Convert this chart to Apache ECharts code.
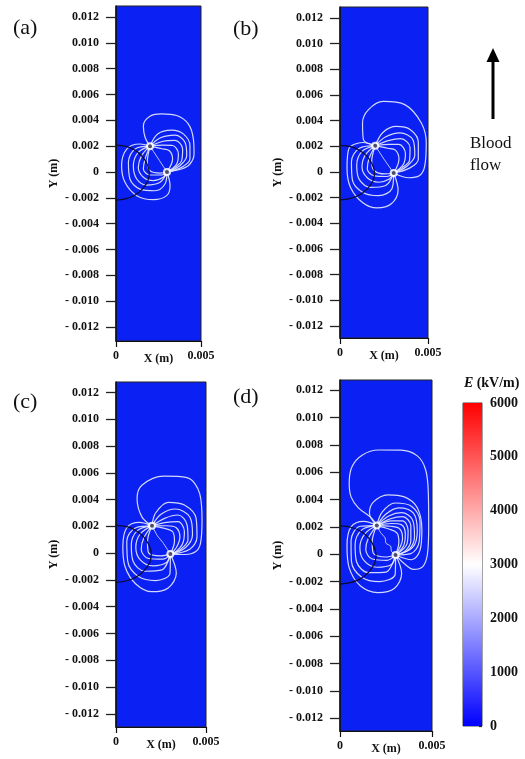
<!DOCTYPE html>
<html><head><meta charset="utf-8">
<script src="https://cdn.jsdelivr.net/npm/echarts@6/dist/echarts.min.js"></script>
<style>html,body{margin:0;padding:0;background:#fff}#c{width:525px;height:759px}</style>
</head><body><div id="c"></div>
<script>
// ---------- data (positions in mm; axes labelled in m) ----------
const yTicks = [12,10,8,6,4,2,0,-2,-4,-6,-8,-10,-12];
const yTickLabels = ["0.012","0.010","0.008","0.006","0.004","0.002","0","- 0.002","- 0.004","- 0.006","- 0.008","- 0.010","- 0.012"];
const xTicks = [0,5];
const xTickLabels = ["0","0.005"];
const cbTicks = [0,1000,2000,3000,4000,5000,6000];
const cbTickLabels = ["0","1000","2000","3000","4000","5000","6000"];
const cbMax = 6000;
const panelLabels = ["(a)","(b)","(c)","(d)"];

// tissue boundary (black arc)
const tissueArc = [[0,2.08],[0.6,1.98],[1.1,1.7],[1.55,1.2],[1.85,0.55],[1.96,-0.05],[1.87,-0.7],[1.56,-1.3],[1.1,-1.8],[0.55,-2.08],[0,-2.18]];

// ---- panel (a)
const electrodesA = [[2.0,2.0],[3.0,0.0]];
const midA = [[2.0,2.0],[2.5,1.0],[3.0,0.0]];
const rightA = [
 [[2.0,2.0],[1.71,2.69],[1.61,3.59],[2.0,4.32],[2.69,4.5],[3.57,4.37],[4.25,3.72],[4.55,2.56],[4.59,1.4],[4.35,0.62],[3.86,0.23],[3.0,0.0]],
 [[2.0,2.0],[2.45,2.95],[3.27,3.25],[3.96,2.95],[4.35,2.04],[4.35,1.0],[3.86,0.36],[3.0,0.0]],
 [[2.0,2.0],[2.62,2.65],[3.47,2.85],[4.06,2.3],[4.16,1.27],[3.76,0.49],[3.0,0.0]],
 [[2.0,2.0],[2.78,2.38],[3.47,2.45],[3.92,1.78],[3.86,0.88],[3.47,0.36],[3.0,0.0]],
 [[2.0,2.0],[2.78,2.08],[3.33,2.05],[3.67,1.4],[3.57,0.62],[3.0,0.0]],
 [[2.0,2.0],[2.69,1.8],[3.14,1.65],[3.33,1.0],[3.0,0.0]]
];
const leftA = [
 [[2.0,2.0],[1.41,2.17],[0.63,1.78],[0.33,0.49],[0.53,-0.8],[1.22,-1.83],[2.2,-2.14],[2.98,-1.83],[3.18,-1.06],[3.0,0.0]],
 [[2.0,2.0],[1.12,1.78],[0.73,0.75],[0.82,-0.54],[1.41,-1.32],[2.29,-1.45],[2.88,-0.93],[3.0,0.0]],
 [[2.0,2.0],[1.31,1.52],[1.02,0.49],[1.22,-0.54],[1.8,-1.01],[2.59,-0.8],[3.0,0.0]],
 [[2.0,2.0],[1.51,1.27],[1.31,0.36],[1.61,-0.41],[2.2,-0.67],[2.78,-0.41],[3.0,0.0]],
 [[2.0,2.0],[1.71,1.01],[1.61,0.23],[2.0,-0.23],[2.69,-0.23],[3.0,0.0]],
 [[2.0,2.0],[1.84,0.75],[2.0,0.1],[2.59,-0.08],[3.0,0.0]]
];

// ---- panel (b)
const electrodesB = [[2.0,2.05],[3.05,-0.08]];
const midB = [[2.0,2.05],[2.5,1.0],[3.05,-0.08]];
const rightB = [
 [[2.0,2.05],[1.33,2.52],[1.28,3.82],[1.62,4.86],[2.46,5.5],[3.68,5.25],[4.62,3.82],[4.9,2.26],[4.81,0.44],[4.5,-0.3],[3.9,-0.45],[3.05,-0.08]],
 [[2.0,2.05],[2.45,3.1],[3.2,3.55],[4.0,3.3],[4.45,2.3],[4.45,1.0],[3.95,0.3],[3.05,-0.08]],
 [[2.0,2.05],[2.6,2.75],[3.4,3.05],[4.15,2.5],[4.25,1.3],[3.8,0.45],[3.05,-0.08]],
 [[2.0,2.05],[2.75,2.45],[3.45,2.6],[3.98,1.9],[3.95,0.9],[3.5,0.3],[3.05,-0.08]],
 [[2.0,2.05],[2.8,2.15],[3.35,2.15],[3.72,1.45],[3.6,0.6],[3.05,-0.08]],
 [[2.0,2.05],[2.7,1.85],[3.15,1.7],[3.35,1.0],[3.05,-0.08]]
];
const leftB = [
 [[2.0,2.05],[1.3,2.3],[0.5,1.8],[0.4,0.3],[0.6,-1.2],[1.3,-2.4],[2.1,-2.8],[2.9,-2.5],[3.3,-1.4],[3.05,-0.08]],
 [[2.0,2.05],[1.1,1.85],[0.65,0.8],[0.7,-0.6],[1.3,-1.6],[2.2,-1.85],[2.95,-1.3],[3.05,-0.08]],
 [[2.0,2.05],[1.25,1.6],[0.95,0.5],[1.1,-0.6],[1.75,-1.2],[2.6,-1.05],[3.05,-0.08]],
 [[2.0,2.05],[1.45,1.35],[1.25,0.4],[1.55,-0.45],[2.2,-0.8],[2.8,-0.55],[3.05,-0.08]],
 [[2.0,2.05],[1.65,1.05],[1.55,0.25],[1.95,-0.3],[2.65,-0.35],[3.05,-0.08]],
 [[2.0,2.05],[1.8,0.8],[1.95,0.1],[2.55,-0.15],[3.05,-0.08]]
];

// ---- panel (c)
const electrodesC = [[2.0,2.04],[3.02,-0.07]];
const midC = [[2.0,2.04],[2.3,1.3],[2.6,0.8],[3.02,-0.07]];
const rightC = [
 [[2.0,2.04],[1.44,2.71],[1.17,4.08],[1.44,5.07],[2.65,5.75],[3.94,5.65],[4.65,4.45],[4.78,2.46],[4.69,0.72],[4.41,0.1],[3.85,-0.1],[3.02,-0.07]],
 [[2.0,2.04],[2.2,3.0],[2.9,3.8],[3.8,3.6],[4.45,2.6],[4.5,1.2],[4.1,0.3],[3.02,-0.07]],
 [[2.0,2.04],[2.5,2.9],[3.3,3.3],[4.1,2.7],[4.25,1.4],[3.85,0.4],[3.02,-0.07]],
 [[2.0,2.04],[2.7,2.6],[3.45,2.85],[3.95,2.1],[4.0,1.0],[3.6,0.3],[3.02,-0.07]],
 [[2.0,2.04],[2.8,2.3],[3.45,2.35],[3.8,1.6],[3.7,0.7],[3.35,0.15],[3.02,-0.07]],
 [[2.0,2.04],[2.8,2.05],[3.35,1.9],[3.55,1.2],[3.35,0.4],[3.02,-0.07]],
 [[2.0,2.04],[2.7,1.85],[3.15,1.6],[3.25,0.9],[3.02,-0.07]]
];
const leftC = [
 [[2.0,2.04],[1.3,2.3],[0.6,1.9],[0.38,0.5],[0.5,-1.0],[1.1,-2.3],[2.0,-2.88],[2.9,-2.6],[3.35,-1.5],[3.02,-0.07]],
 [[2.0,2.04],[1.1,1.9],[0.6,0.9],[0.65,-0.6],[1.25,-1.75],[2.2,-2.05],[3.0,-1.5],[3.02,-0.07]],
 [[2.0,2.04],[1.2,1.7],[0.85,0.6],[0.95,-0.6],[1.6,-1.35],[2.55,-1.25],[3.02,-0.07]],
 [[2.0,2.04],[1.35,1.45],[1.1,0.45],[1.35,-0.5],[2.05,-0.95],[2.8,-0.7],[3.02,-0.07]],
 [[2.0,2.04],[1.55,1.15],[1.4,0.3],[1.8,-0.4],[2.6,-0.45],[3.02,-0.07]],
 [[2.0,2.04],[1.75,0.85],[1.8,0.05],[2.5,-0.2],[3.02,-0.07]]
];

// ---- panel (d)
const electrodesD = [[2.0,2.1],[3.02,-0.05]];
const midD = [[2.0,2.1],[2.2,1.6],[2.45,1.2],[2.5,0.8],[2.75,0.6],[2.8,0.2],[3.02,-0.05]];
const rightD = [
 [[2.0,2.1],[1.73,2.63],[1.0,3.4],[0.6,4.2],[0.5,5.2],[0.65,6.4],[1.2,7.25],[2.1,7.63],[3.3,7.62],[4.2,7.2],[4.65,6.2],[4.8,4.5],[4.82,2.0],[4.75,0.0],[4.5,-0.9],[4.0,-1.1],[3.5,-0.7],[3.02,-0.05]],
 [[2.0,2.1],[1.6,3.0],[1.8,3.8],[2.6,4.35],[3.5,4.2],[4.2,3.4],[4.45,1.8],[4.35,0.3],[3.9,-0.4],[3.02,-0.05]],
 [[2.0,2.1],[2.3,3.1],[3.0,3.75],[3.9,3.5],[4.35,2.4],[4.3,0.9],[3.85,0.05],[3.02,-0.05]],
 [[2.0,2.1],[2.5,2.95],[3.2,3.4],[4.0,3.0],[4.2,1.7],[3.95,0.5],[3.02,-0.05]],
 [[2.0,2.1],[2.65,2.8],[3.35,3.05],[3.95,2.5],[4.05,1.3],[3.75,0.35],[3.02,-0.05]],
 [[2.0,2.1],[2.75,2.6],[3.4,2.75],[3.85,2.1],[3.85,1.0],[3.55,0.25],[3.02,-0.05]],
 [[2.0,2.1],[2.8,2.45],[3.4,2.45],[3.7,1.75],[3.65,0.8],[3.02,-0.05]],
 [[2.0,2.1],[2.8,2.25],[3.35,2.15],[3.55,1.45],[3.45,0.6],[3.02,-0.05]],
 [[2.0,2.1],[2.75,2.05],[3.25,1.85],[3.4,1.15],[3.02,-0.05]],
 [[2.0,2.1],[2.65,1.85],[3.1,1.55],[3.2,0.9],[3.02,-0.05]]
];
const leftD = [
 [[2.0,2.1],[1.3,2.4],[0.6,2.0],[0.38,0.6],[0.5,-1.0],[1.1,-2.3],[2.05,-2.8],[2.95,-2.5],[3.35,-1.4],[3.02,-0.05]],
 [[2.0,2.1],[1.1,2.05],[0.6,1.0],[0.62,-0.5],[1.2,-1.7],[2.15,-2.0],[3.0,-1.45],[3.02,-0.05]],
 [[2.0,2.1],[1.2,1.8],[0.82,0.7],[0.9,-0.55],[1.55,-1.35],[2.5,-1.3],[3.02,-0.05]],
 [[2.0,2.1],[1.35,1.5],[1.08,0.5],[1.3,-0.45],[2.0,-0.95],[2.8,-0.75],[3.02,-0.05]],
 [[2.0,2.1],[1.55,1.2],[1.4,0.35],[1.75,-0.35],[2.55,-0.45],[3.02,-0.05]],
 [[2.0,2.1],[1.75,0.9],[1.8,0.1],[2.45,-0.2],[3.02,-0.05]]
];

// ---------- layout ----------
const panels = [
 {grid:{left:116,top:6,width:85,height:335}, ymin:-13.08, ymax:12.85, right:rightA, left:leftA, mid:midA, el:electrodesA, lab:[13,17]},
 {grid:{left:340,top:7,width:88,height:331}, ymin:-12.94, ymax:12.86, right:rightB, left:leftB, mid:midB, el:electrodesB, lab:[233,18]},
 {grid:{left:116,top:382,width:90,height:345}, ymin:-12.99, ymax:12.79, right:rightC, left:leftC, mid:midC, el:electrodesC, lab:[13,391]},
 {grid:{left:340,top:380,width:92,height:351}, ymin:-12.93, ymax:12.75, right:rightD, left:leftD, mid:midD, el:electrodesD, lab:[233,386]}
];
const FONT = "'Liberation Serif','Times New Roman',serif";
const BLUE = '#0b20f2';
const CONTOUR = 'rgba(228,232,255,0.92)';

const grids = [], xAxes = [], yAxes = [], series = [];
function lookup(ticks, labels, v){
  for (let i=0;i<ticks.length;i++) if (Math.abs(ticks[i]-v)<1e-6) return labels[i];
  return '';
}
panels.forEach((p,i)=>{
  grids.push(Object.assign({show:true, backgroundColor:BLUE, borderColor:'#222', borderWidth:1}, p.grid));
  xAxes.push({type:'value', gridIndex:i, min:0, max:5, interval:5,
    axisLine:{show:true, onZero:false, lineStyle:{color:'#111', width:1.2}},
    axisTick:{show:true, length:6, lineStyle:{color:'#111', width:1.2}},
    axisLabel:{margin:9, fontFamily:FONT, fontWeight:'bold', fontSize:12, color:'#111',
      formatter:v=>lookup(xTicks,xTickLabels,v)},
    splitLine:{show:false},
    name:'X (m)', nameLocation:'middle', nameGap:12, nameMoveOverlap:false,
    nameTextStyle:{fontFamily:FONT, fontWeight:'bold', fontSize:12, color:'#111'}});
  yAxes.push({type:'value', gridIndex:i, min:p.ymin, max:p.ymax,
    axisLine:{show:true, onZero:false, lineStyle:{color:'#111', width:1.5}},
    axisTick:{show:true, length:10, customValues:yTicks, lineStyle:{color:'#222', width:1.3}},
    axisLabel:{margin:17, customValues:yTicks, fontFamily:FONT, fontWeight:'bold', fontSize:12, color:'#111',
      formatter:v=>lookup(yTicks,yTickLabels,v)},
    splitLine:{show:false},
    name:'Y (m)', nameLocation:'middle', nameGap:56, nameRotate:90, nameMoveOverlap:false,
    nameTextStyle:{fontFamily:FONT, fontWeight:'bold', fontSize:12, color:'#111'}});
  const base = {type:'line', xAxisIndex:i, yAxisIndex:i, symbol:'none', smooth:0.35, silent:true, z:3};
  p.right.concat(p.left).forEach(c=>{
    series.push(Object.assign({}, base, {data:c, lineStyle:{color:CONTOUR, width:1.2}}));
  });
  series.push(Object.assign({}, base, {data:p.mid, smooth:0.2, lineStyle:{color:'rgba(225,230,255,0.85)', width:1}}));
  series.push(Object.assign({}, base, {data:tissueArc, z:4, lineStyle:{color:'#0a0a30', width:1.2}}));
  series.push({type:'scatter', xAxisIndex:i, yAxisIndex:i, data:p.el, symbolSize:8, silent:true, z:5,
    itemStyle:{color:'#ffffff', opacity:0.85}});
  series.push({type:'scatter', xAxisIndex:i, yAxisIndex:i, data:p.el, symbolSize:4, silent:true, z:6,
    itemStyle:{color:'#222244'}});
});

// colorbar
grids.push({show:true, left:463, top:403, width:19, height:323, borderColor:'#444', borderWidth:1});
xAxes.push({type:'category', gridIndex:4, data:['E'], show:false});
yAxes.push({type:'value', gridIndex:4, min:0, max:cbMax, interval:1000, position:'right',
  axisLine:{show:false},
  axisTick:{show:true, inside:true, length:3, lineStyle:{color:'#222', width:1.2}},
  axisLabel:{margin:8, fontFamily:FONT, fontWeight:'bold', fontSize:14, color:'#111',
    formatter:v=>lookup(cbTicks,cbTickLabels,v)},
  splitLine:{show:false}});
series.push({type:'bar', xAxisIndex:4, yAxisIndex:4, data:[cbMax], barWidth:'100%', silent:true,
  itemStyle:{color:{type:'linear', x:0, y:0, x2:0, y2:1, colorStops:[
    {offset:0, color:'#ff0000'}, {offset:0.5, color:'#ffffff'}, {offset:1, color:'#0000ff'}]}}});

const graphic = panels.map((p,i)=>({type:'text', left:p.lab[0], top:p.lab[1],
  style:{text:panelLabels[i], font:"22px "+FONT, fill:'#111'}}));
graphic.push({type:'line', shape:{x1:493, y1:119, x2:493, y2:58}, style:{stroke:'#000', lineWidth:3}});
graphic.push({type:'polygon', shape:{points:[[493,48],[486.5,62],[499.5,62]]}, style:{fill:'#000'}});
graphic.push({type:'text', left:470, top:133, style:{text:'Blood\nflow', font:"17px "+FONT, fill:'#111', lineHeight:22}});
graphic.push({type:'text', left:464, top:376, style:{text:'{i|E} {b|(kV/m)}', rich:{
  i:{fontStyle:'italic', fontWeight:'bold', fontSize:14, fontFamily:FONT, fill:'#111'},
  b:{fontWeight:'bold', fontSize:14, fontFamily:FONT, fill:'#111'}}}});

const chart = echarts.init(document.getElementById('c'), null, {renderer:'canvas'});
chart.setOption({animation:false, backgroundColor:'#fff', grid:grids, xAxis:xAxes, yAxis:yAxes, series:series, graphic:graphic});
</script></body></html>
